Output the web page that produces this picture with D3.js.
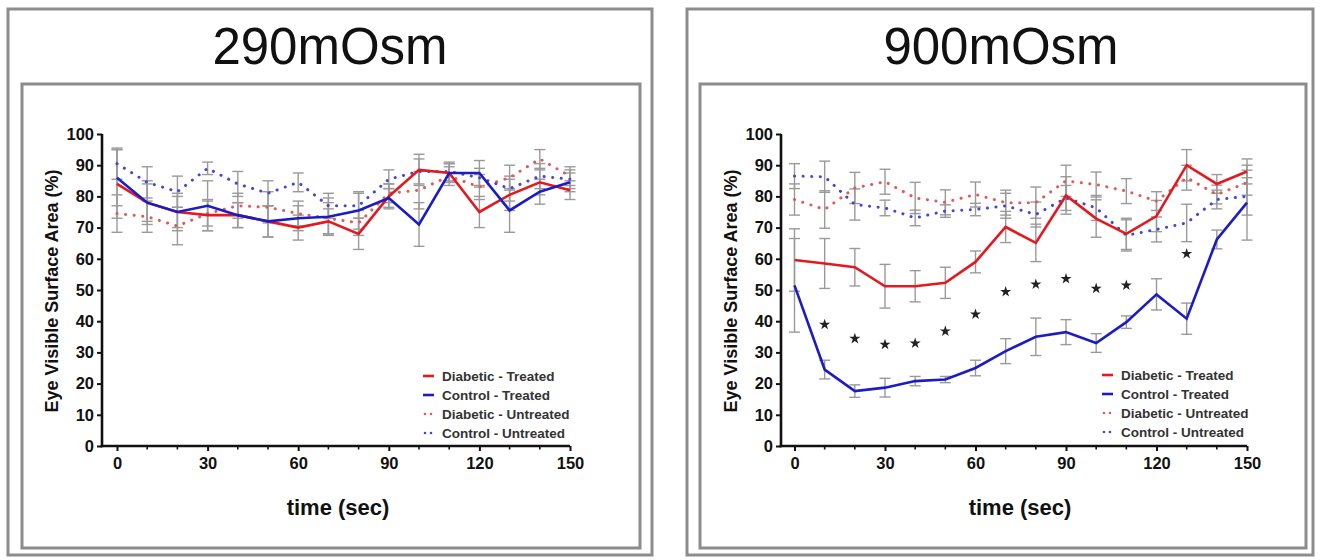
<!DOCTYPE html>
<html>
<head>
<meta charset="utf-8">
<script src="https://cdn.jsdelivr.net/npm/d3@7"></script>
<style>
  html, body { margin: 0; padding: 0; background: #ffffff; }
  svg { display: block; }
  text { font-family: "Liberation Sans", Arial, Helvetica, sans-serif; }
</style>
</head>
<body>
<svg id="chart" width="1321" height="560"></svg>
<script>
// ---------- data ----------
const times = [0, 10, 20, 30, 40, 50, 60, 70, 80, 90, 100, 110, 120, 130, 140, 150];
const xTickValues = [0, 30, 60, 90, 120, 150];
const yTickValues = [0, 10, 20, 30, 40, 50, 60, 70, 80, 90, 100];
const seriesNames = ["Diabetic - Treated", "Control - Treated", "Diabetic - Untreated", "Control - Untreated"];
const panelTitles = ["290mOsm", "900mOsm"];
const xTitle = "time (sec)";
const yTitle = "Eye Visible Surface Area (%)";

// 290 mOsm
const osm290DiabeticTreated   = [84, 78, 75, 74, 74, 72, 70, 72, 68, 80, 88.5, 87.5, 75, 80.5, 84.5, 82];
const osm290ControlTreated    = [86, 78, 75, 77, 74, 72, 73, 73.5, 75.5, 79.5, 71, 87.5, 87.5, 75.5, 81.5, 84.5];
const osm290DiabeticUntreated = [74.5, 73.5, 70.5, 74.5, 77, 76.5, 74.5, 73, 71.5, 81, 82, 86.5, 83, 86, 92, 86.5];
const osm290ControlUntreated  = [90.5, 84.5, 81.5, 89, 84, 81, 84.5, 77, 77, 85.5, 88, 88, 86, 82.5, 86.5, 85.5];
const osm290DiabeticTreatedErr   = [11, 6, 6, 5, 4, 5, 4, 4, 5, 4, 5, 3, 5, 5, 4, 3];
const osm290ControlTreatedErr    = [9, 7, 5, 8, 4, 5, 4, 6, 6, 3, 7, 3, 4, 7, 4, 3];
const osm290DiabeticUntreatedErr = [6, 5, 6, 4, 4, 5, 4, 5, 4, 3, 6, 3, 4, 4, 3, 3];
const osm290ControlUntreatedErr  = [5, 5, 5, 2, 4, 4, 3, 4, 4, 3, 4, 3, 3, 4, 4, 3];

// 900 mOsm
const osm900DiabeticTreated   = [59.6, 58.5, 57.3, 51.2, 51.2, 52.3, 59, 70.2, 65.1, 80.3, 72.9, 68, 73.7, 90, 84, 88];
const osm900ControlTreated    = [51.5, 24.5, 17.6, 18.7, 20.8, 21.3, 25, 30.4, 35, 36.5, 33, 39.7, 48.6, 40.8, 66.2, 78];
const osm900DiabeticUntreated = [79, 75.8, 82.7, 84.7, 79.5, 78.1, 80.6, 78, 78, 85, 83.8, 81.7, 78.5, 86, 80.6, 84.4];
const osm900ControlUntreated  = [86.5, 86.3, 77.4, 76.3, 73.1, 75.3, 75.8, 77, 74.2, 79.5, 76.3, 67.5, 69.4, 71.5, 79, 80];
const osm900DiabeticTreatedErr   = [10, 8, 6, 7, 5, 5, 3.5, 5, 6, 6, 6, 5, 5, 5, 3, 4];
const osm900ControlTreatedErr    = [15, 3, 2, 3, 1.5, 1, 2.5, 4, 6, 4, 3, 2, 5, 5, 3, 12];
const osm900DiabeticUntreatedErr = [5, 6, 5, 4, 5, 4, 4, 4, 5, 5, 4, 4, 3, 4, 3, 4];
const osm900ControlUntreatedErr  = [4, 5, 5, 2.5, 2.5, 2, 2, 4, 4, 4, 4, 5, 4, 6, 3, 6];

// significance markers (900 mOsm)
const starTimes  = [10, 20, 30, 40, 50, 60, 70, 80, 90, 100, 110, 130];
const starValues = [38.9, 34.4, 32.5, 32.9, 36.8, 42.2, 49.4, 51.8, 53.6, 50.5, 51.5, 61.6];

// ---------- styles ----------
const seriesStyles = [
  { color: "#e3191f", dotted: false },
  { color: "#1c1cc4", dotted: false },
  { color: "#e05a5a", dotted: true },
  { color: "#4646d2", dotted: true }
];

const svg = d3.select("#chart");

const panels = [
  {
    title: panelTitles[0],
    outer: [8, 9, 644, 546], inner: [22, 84, 618, 464],
    titleX: 330, titleY: 64,
    xRange: [117, 570], yRange: [446, 134], axisGap: 15,
    yTitleX: 52, xTitleX: 338,
    legendX: 423, legendY: 376,
    series: [osm290DiabeticTreated, osm290ControlTreated, osm290DiabeticUntreated, osm290ControlUntreated],
    errors: [osm290DiabeticTreatedErr, osm290ControlTreatedErr, osm290DiabeticUntreatedErr, osm290ControlUntreatedErr],
    stars: null
  },
  {
    title: panelTitles[1],
    outer: [687, 9, 626, 546], inner: [700, 84, 606, 464],
    titleX: 1001, titleY: 64,
    xRange: [794.5, 1247], yRange: [446, 134], axisGap: 13.5,
    yTitleX: 731, xTitleX: 1020,
    legendX: 1102, legendY: 375,
    series: [osm900DiabeticTreated, osm900ControlTreated, osm900DiabeticUntreated, osm900ControlUntreated],
    errors: [osm900DiabeticTreatedErr, osm900ControlTreatedErr, osm900DiabeticUntreatedErr, osm900ControlUntreatedErr],
    stars: { t: starTimes, v: starValues }
  }
];

panels.forEach(p => {
  const g = svg.append("g");
  // panel frames
  g.append("rect").attr("x", p.outer[0]).attr("y", p.outer[1])
    .attr("width", p.outer[2]).attr("height", p.outer[3])
    .attr("fill", "#fff").attr("stroke", "#8c8c8c").attr("stroke-width", 3);
  g.append("rect").attr("x", p.inner[0]).attr("y", p.inner[1])
    .attr("width", p.inner[2]).attr("height", p.inner[3])
    .attr("fill", "#fff").attr("stroke", "#8c8c8c").attr("stroke-width", 3);

  g.append("text").attr("x", p.titleX).attr("y", p.titleY)
    .attr("text-anchor", "middle").attr("font-size", 51).attr("fill", "#111")
    .text(p.title);

  const x = d3.scaleLinear().domain([0, 150]).range(p.xRange);
  const y = d3.scaleLinear().domain([0, 100]).range(p.yRange);
  const axisX = x(0) - p.axisGap;

  // error bars
  const capW = 5.5;
  p.series.forEach((vals, si) => {
    const errs = p.errors[si];
    const eb = g.append("g").attr("stroke", "#9a9a9a").attr("stroke-width", 1.4).attr("fill", "none");
    times.forEach((t, i) => {
      const cx = x(t), top = y(vals[i] + errs[i]), bot = y(vals[i] - errs[i]);
      eb.append("line").attr("x1", cx).attr("x2", cx).attr("y1", top).attr("y2", bot);
      eb.append("line").attr("x1", cx - capW).attr("x2", cx + capW).attr("y1", top).attr("y2", top);
      eb.append("line").attr("x1", cx - capW).attr("x2", cx + capW).attr("y1", bot).attr("y2", bot);
    });
  });

  // lines (dotted first, solid on top)
  const line = d3.line().x((d, i) => x(times[i])).y(d => y(d));
  [2, 3, 0, 1].forEach(si => {
    const st = seriesStyles[si];
    const path = g.append("path").datum(p.series[si]).attr("d", line)
      .attr("fill", "none").attr("stroke", st.color);
    if (st.dotted) {
      path.attr("stroke-width", 3).attr("stroke-linecap", "round")
        .attr("stroke-dasharray", "0.1 8.5");
    } else {
      path.attr("stroke-width", 2.6).attr("stroke-linejoin", "miter");
    }
  });

  // stars
  if (p.stars) {
    const star = d3.symbol().type(d3.symbolStar).size(38);
    p.stars.t.forEach((t, i) => {
      g.append("path").attr("d", star)
        .attr("transform", `translate(${x(t)},${y(p.stars.v[i])})`)
        .attr("fill", "#222");
    });
  }

  // axes
  const axG = g.append("g").attr("stroke", "#111");
  axG.append("line").attr("x1", axisX).attr("x2", axisX)
    .attr("y1", y(0) + 1.2).attr("y2", y(100)).attr("stroke-width", 2.6);
  axG.append("line").attr("x1", axisX - 1.3).attr("x2", x(150))
    .attr("y1", y(0)).attr("y2", y(0)).attr("stroke-width", 2.6);

  const yAxis = d3.axisLeft(y).tickValues(yTickValues).tickSize(5).tickPadding(3);
  const ya = g.append("g").attr("transform", `translate(${axisX},0)`).call(yAxis);
  ya.select(".domain").remove();
  ya.selectAll(".tick line").attr("stroke", "#111").attr("stroke-width", 2);
  ya.selectAll(".tick text").attr("font-size", 16.5).attr("font-weight", "bold")
    .attr("fill", "#111").attr("font-family", "'Liberation Sans', Arial, sans-serif");

  const xAxis = d3.axisBottom(x).tickValues(xTickValues).tickSize(5).tickPadding(6);
  const xa = g.append("g").attr("transform", `translate(0,${y(0)})`).call(xAxis);
  xa.select(".domain").remove();
  xa.selectAll(".tick line").attr("stroke", "#111").attr("stroke-width", 2);
  xa.selectAll(".tick text").attr("font-size", 16.5).attr("font-weight", "bold")
    .attr("fill", "#111").attr("font-family", "'Liberation Sans', Arial, sans-serif");
  // minor ticks
  const minor = times.filter(t => !xTickValues.includes(t));
  g.append("g").selectAll("line").data(minor).join("line")
    .attr("x1", d => x(d)).attr("x2", d => x(d))
    .attr("y1", y(0)).attr("y2", y(0) + 3.5)
    .attr("stroke", "#111").attr("stroke-width", 1.6);

  // axis titles
  g.append("text").attr("x", p.xTitleX).attr("y", 515)
    .attr("text-anchor", "middle").attr("font-size", 22).attr("font-weight", "bold")
    .attr("fill", "#111").text(xTitle);
  g.append("text")
    .attr("transform", `translate(${p.yTitleX + 6},291) rotate(-90)`)
    .attr("text-anchor", "middle").attr("font-size", 18).attr("font-weight", "bold")
    .attr("fill", "#111").text(yTitle);

  // legend
  const lg = g.append("g").attr("transform", `translate(${p.legendX},${p.legendY})`);
  seriesNames.forEach((name, i) => {
    const st = seriesStyles[i];
    const row = lg.append("g").attr("transform", `translate(0,${i * 19})`);
    if (st.dotted) {
      [2, 8].forEach(dx => row.append("circle").attr("cx", dx).attr("cy", 0).attr("r", 1.3).attr("fill", st.color));
    } else {
      row.append("line").attr("x1", 0).attr("x2", 11).attr("y1", 0).attr("y2", 0)
        .attr("stroke", st.color).attr("stroke-width", 2.6);
    }
    row.append("text").attr("x", 19).attr("y", 4.8)
      .attr("font-size", 13.5).attr("font-weight", "bold").attr("fill", "#333").text(name);
  });
});
</script>
</body>
</html>
